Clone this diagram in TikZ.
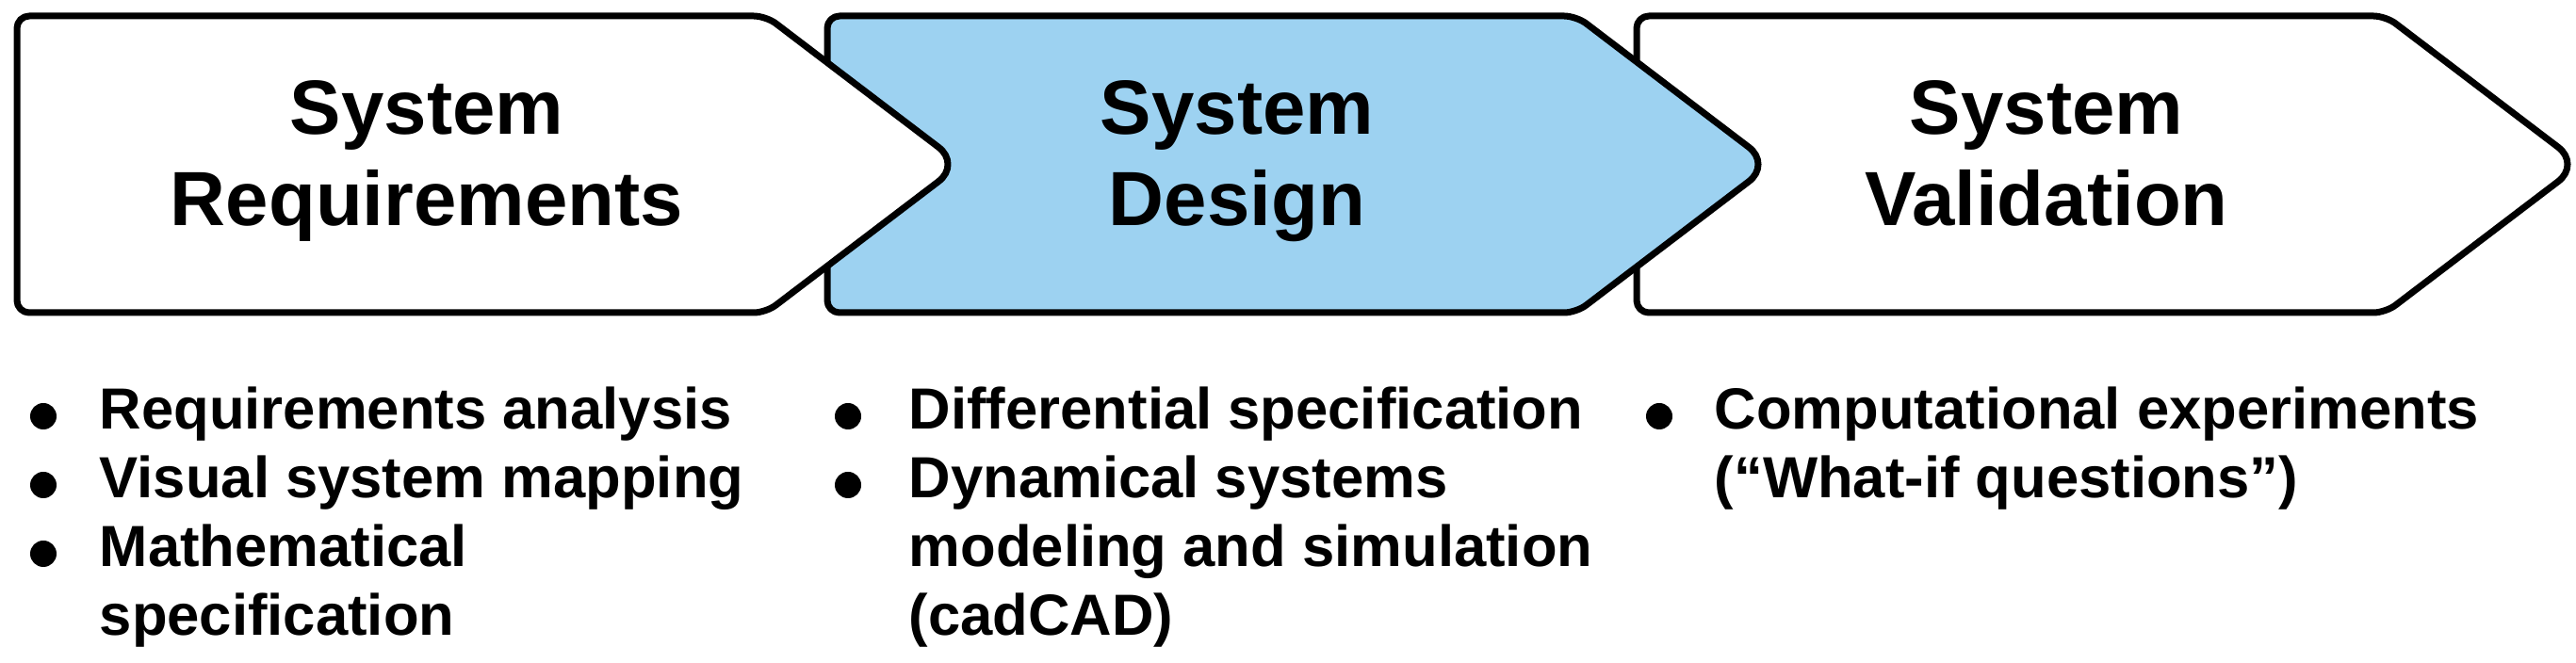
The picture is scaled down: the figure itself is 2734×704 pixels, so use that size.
\documentclass[tikz,border=0pt]{standalone}
\usepackage{fontspec}
\setmainfont{Liberation Sans}
\definecolor{stageblue}{RGB}{157,210,241}
\begin{document}
\begin{tikzpicture}[x=0.25pt,y=-0.25pt,
  stage/.style={draw=black, line width=1.75pt, line join=round},
  headtext/.style={anchor=base, inner sep=0pt, font=\fontsize{20.4pt}{24pt}\selectfont\bfseries},
  itemtext/.style={anchor=base west, inner sep=0pt, font=\fontsize{15.4pt}{18pt}\selectfont\bfseries},
  itemdot/.style={circle, fill=black, draw=none, minimum size=7pt, inner sep=0pt}]
\useasboundingbox (0,0) rectangle (2734,704);
% stages (drawn right to left so that each overlaps the next)
\draw[stage, fill=white] [rounded corners=3.25pt] (1737,174.5) -- (1737,17) -- (2532,17)
  [rounded corners=7.5pt] -- (2739,174.5) [rounded corners=3.25pt] -- (2532,332) -- (1737,332) -- cycle;
\draw[stage, fill=stageblue] [rounded corners=3.25pt] (878,174.5) -- (878,17) -- (1673,17)
  [rounded corners=7.5pt] -- (1880,174.5) [rounded corners=3.25pt] -- (1673,332) -- (878,332) -- cycle;
\draw[stage, fill=white] [rounded corners=3.25pt] (18,174.5) -- (18,17) -- (813,17)
  [rounded corners=7.5pt] -- (1020,174.5) [rounded corners=3.25pt] -- (813,332) -- (18,332) -- cycle;
% stage titles
\node[headtext] (t1a) at (453,143) {System};
\node[headtext] (t1b) at (453,240) {Requirements};
\node[headtext] (t2a) at (1313,143) {System};
\node[headtext] (t2b) at (1313,240) {Design};
\node[headtext] (t3a) at (2172,143) {System};
\node[headtext] (t3b) at (2172,240) {Validation};
% column 1
\node[itemdot] (d1a) at (46,442) {};
\node[itemtext] (i1a) at (105,456) {Requirements analysis};
\node[itemdot] (d1b) at (46,515) {};
\node[itemtext] (i1b) at (105,529) {Visual system mapping};
\node[itemdot] (d1c) at (46,588) {};
\node[itemtext] (i1c) at (105,602) {Mathematical};
\node[itemtext] (i1d) at (105,675) {specification};
% column 2
\node[itemdot] (d2a) at (900,442) {};
\node[itemtext] (i2a) at (964,456) {Differential specification};
\node[itemdot] (d2b) at (900,515) {};
\node[itemtext] (i2b) at (964,529) {Dynamical systems};
\node[itemtext] (i2c) at (964,602) {modeling and simulation};
\node[itemtext] (i2d) at (964,675) {(cadCAD)};
% column 3
\node[itemdot] (d3a) at (1761,442) {};
\node[itemtext] (i3a) at (1819,456) {Computational experiments};
\node[itemtext] (i3b) at (1819,529) {(“What-if questions”)};
\end{tikzpicture}
\end{document}
